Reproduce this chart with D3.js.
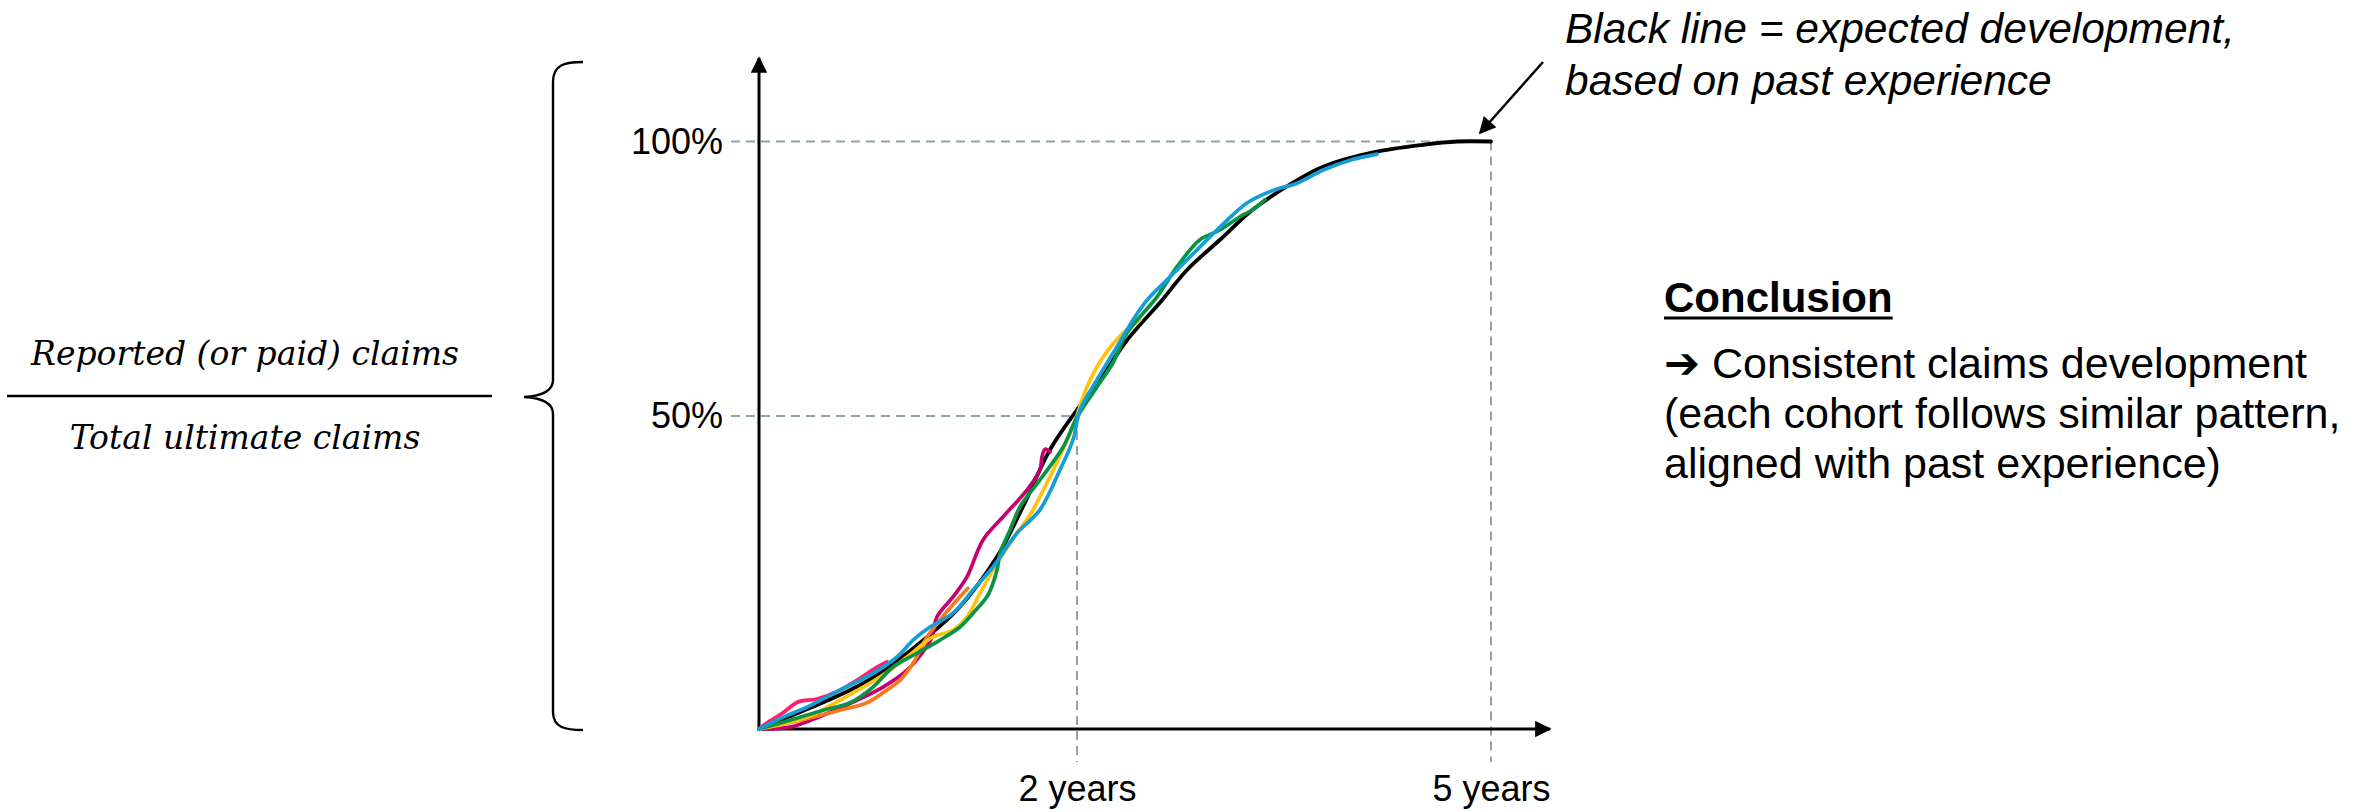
<!DOCTYPE html>
<html>
<head>
<meta charset="utf-8">
<script src="https://cdn.jsdelivr.net/npm/d3@7"></script>
<style>
  body { margin: 0; background: #fff; }
  svg text { font-family: "Liberation Sans", Arial, sans-serif; fill: #000; }
</style>
</head>
<body>
<div id="chart"></div>
<script>
var vWidth = 2361;
var vHeight = 812;

// x in years since start of cohort, y as share of total ultimate claims
var xTicks = [2, 5];
var xTickLabels = ["2 years", "5 years"];
var yTicks = [0.5, 1];
var yTickLabels = ["50%", "100%"];

// expected development (black line)
var expected = [[0,0],[0.26,0.027],[0.57,0.062],[0.76,0.089],[0.93,0.121],[1.245,0.19],[1.497,0.275],[1.66,0.355],[1.83,0.446],[2,0.511],[2.167,0.566],[2.362,0.638],[2.616,0.711],[2.797,0.766],[3.036,0.821],[3.275,0.876],[3.565,0.925],[3.783,0.954],[4.145,0.98],[4.507,0.994],[4.754,1],[5,1]];

// individual cohorts
var cohortColors = ["#c8006f", "#f47a20", "#ff1f6b", "#ffc20e", "#0a9344", "#139fd6"];
var cohortMagenta = [[0,0],[0.195,0.003],[0.403,0.022],[0.616,0.046],[0.78,0.067],[0.931,0.094],[1.025,0.121],[1.088,0.147],[1.119,0.179],[1.22,0.211],[1.308,0.243],[1.409,0.302],[1.535,0.339],[1.686,0.382],[1.767,0.414],[1.78,0.435],[1.799,0.447],[1.83,0.4425]];
var cohortOrange = [[0,0],[0.258,0.014],[0.509,0.03],[0.679,0.042],[0.78,0.058],[0.887,0.078],[0.969,0.105],[1.057,0.147],[1.138,0.174],[1.245,0.206],[1.314,0.225]];
var cohortPink = [[0,0],[0.05,0.0096],[0.151,0.026],[0.245,0.043],[0.365,0.048],[0.509,0.062],[0.635,0.081],[0.73,0.097],[0.805,0.107]];
var cohortYellow = [[0,0],[0.302,0.019],[0.509,0.046],[0.761,0.083],[0.931,0.115],[1.094,0.147],[1.22,0.158],[1.308,0.179],[1.39,0.217],[1.497,0.265],[1.623,0.313],[1.704,0.342],[1.83,0.403],[1.975,0.483],[2.072,0.553],[2.188,0.607],[2.333,0.651],[2.457,0.675]];
var cohortGreen = [[0,0],[0.195,0.014],[0.403,0.03],[0.572,0.042],[0.717,0.067],[0.843,0.099],[0.994,0.121],[1.138,0.142],[1.264,0.163],[1.346,0.185],[1.44,0.214],[1.497,0.254],[1.516,0.281],[1.579,0.318],[1.642,0.355],[1.767,0.398],[1.912,0.45],[2,0.498],[2.145,0.553],[2.261,0.597],[2.362,0.651],[2.58,0.717],[2.725,0.772],[2.891,0.821],[3.036,0.839],[3.181,0.863],[3.275,0.876],[3.362,0.894]];
var cohortBlue = [[0,0],[0.151,0.019],[0.302,0.035],[0.509,0.062],[0.717,0.089],[0.868,0.115],[0.969,0.142],[1.075,0.163],[1.22,0.185],[1.346,0.222],[1.472,0.259],[1.623,0.313],[1.767,0.35],[1.893,0.414],[1.975,0.462],[2.022,0.511],[2.145,0.566],[2.29,0.626],[2.406,0.675],[2.507,0.711],[2.652,0.748],[2.819,0.79],[3.036,0.844],[3.232,0.888],[3.42,0.911],[3.594,0.924],[3.783,0.948],[3.978,0.966],[4.174,0.977]];
var cohorts = [cohortMagenta, cohortOrange, cohortPink, cohortYellow, cohortGreen, cohortBlue];

var annotationLines = ["Black line = expected development,", "based on past experience"];
var conclusionTitle = "Conclusion";
var conclusionLines = ["\u2794 Consistent claims development", "(each cohort follows similar pattern,", "aligned with past experience)"];
var ratioTop = "Reported (or paid) claims";
var ratioBottom = "Total ultimate claims";

var svg = d3.select("#chart")
            .append("svg")
            .attr("width", vWidth)
            .attr("height", vHeight)
            .style("background", "#fff");

// the sketch is not to scale, so both scales are piecewise
var x = d3.scaleLinear().domain([0, 2, 5]).range([759, 1077, 1491]);
var y = d3.scaleLinear().domain([0, 0.5, 1]).range([729, 416, 141.5]);

var axisEndX = 1550;
var axisTopY = 58;
var gridColor = "#8fa3a8";

var defs = svg.append("defs");
defs.append("marker")
    .attr("id", "arrow")
    .attr("viewBox", "0 0 10 10")
    .attr("refX", 9).attr("refY", 5)
    .attr("markerWidth", 6.5).attr("markerHeight", 5.5)
    .attr("orient", "auto")
    .attr("markerUnits", "strokeWidth")
    .append("path")
    .attr("d", "M0,0 L10,5 L0,10 Z")
    .attr("fill", "#000");
defs.append("marker")
    .attr("id", "arrow-thin")
    .attr("viewBox", "0 0 10 10")
    .attr("refX", 9).attr("refY", 5)
    .attr("markerWidth", 7.5).attr("markerHeight", 7)
    .attr("orient", "auto")
    .attr("markerUnits", "strokeWidth")
    .append("path")
    .attr("d", "M0,0 L10,5 L0,10 Z")
    .attr("fill", "#000");

// dashed guides: 50% <-> 2 years, 100% <-> 5 years
var grid = svg.append("g")
    .attr("stroke", gridColor)
    .attr("stroke-width", 2)
    .attr("stroke-dasharray", "9,6")
    .attr("fill", "none");
yTicks.forEach(function (v, i) {
  grid.append("line")
      .attr("x1", x(0) - 28).attr("x2", x(xTicks[i]))
      .attr("y1", y(v)).attr("y2", y(v));
  grid.append("line")
      .attr("x1", x(xTicks[i])).attr("x2", x(xTicks[i]))
      .attr("y1", y(v)).attr("y2", y(0) + 33);
});

// axes: labels through d3 axes, lines drawn as arrows
var xAxis = d3.axisBottom(x)
    .tickValues(xTicks)
    .tickFormat(function (d, i) { return xTickLabels[i]; })
    .tickSize(0)
    .tickPadding(46);
var gx = svg.append("g")
    .attr("transform", "translate(0," + y(0) + ")")
    .call(xAxis);
gx.select(".domain").remove();
gx.selectAll("text").attr("font-size", 36).style("font-family", "'Liberation Sans', Arial, sans-serif");

var yAxis = d3.axisLeft(y)
    .tickValues(yTicks)
    .tickFormat(function (d, i) { return yTickLabels[i]; })
    .tickSize(0)
    .tickPadding(36);
var gy = svg.append("g")
    .attr("transform", "translate(" + x(0) + ",0)")
    .call(yAxis);
gy.select(".domain").remove();
gy.selectAll("text").attr("font-size", 36).style("font-family", "'Liberation Sans', Arial, sans-serif");

svg.append("line")
    .attr("x1", x(0)).attr("y1", y(0))
    .attr("x2", axisEndX).attr("y2", y(0))
    .attr("stroke", "#000").attr("stroke-width", 3)
    .attr("marker-end", "url(#arrow)");
svg.append("line")
    .attr("x1", x(0)).attr("y1", y(0) + 1.5)
    .attr("x2", x(0)).attr("y2", axisTopY)
    .attr("stroke", "#000").attr("stroke-width", 3)
    .attr("marker-end", "url(#arrow)");

// curves
var line = d3.line()
    .x(function (d) { return x(d[0]); })
    .y(function (d) { return y(d[1]); })
    .curve(d3.curveCatmullRom.alpha(0.5));

svg.append("path")
    .datum(expected)
    .attr("d", line)
    .attr("fill", "none")
    .attr("stroke", "#000")
    .attr("stroke-width", 3.8)
    .attr("stroke-linecap", "round");

svg.append("g").selectAll("path")
    .data(cohorts)
    .enter()
    .append("path")
    .attr("d", line)
    .attr("fill", "none")
    .attr("stroke", function (d, i) { return cohortColors[i]; })
    .attr("stroke-width", 3.7)
    .attr("stroke-linecap", "round")
    .attr("stroke-linejoin", "round");

// pointer to the end of the black line
svg.append("line")
    .attr("x1", 1543).attr("y1", 62)
    .attr("x2", 1480).attr("y2", 133)
    .attr("stroke", "#000").attr("stroke-width", 2.4)
    .attr("marker-end", "url(#arrow-thin)");

svg.append("g").selectAll("text")
    .data(annotationLines)
    .enter()
    .append("text")
    .attr("x", 1565)
    .attr("y", function (d, i) { return 43 + i * 52; })
    .attr("font-size", 42.5)
    .attr("font-style", "italic")
    .text(function (d) { return d; });

// conclusion block
var title = svg.append("text")
    .attr("x", 1664).attr("y", 312)
    .attr("font-size", 42)
    .attr("font-weight", "bold")
    .text(conclusionTitle);
var titleWidth = title.node().getComputedTextLength();
svg.append("line")
    .attr("x1", 1664).attr("x2", 1664 + titleWidth)
    .attr("y1", 318).attr("y2", 318)
    .attr("stroke", "#000").attr("stroke-width", 3);

svg.append("g").selectAll("text")
    .data(conclusionLines)
    .enter()
    .append("text")
    .attr("x", 1664)
    .attr("y", function (d, i) { return 378 + i * 50; })
    .attr("font-size", 43)
    .text(function (d) { return d; });

// y-axis description: ratio with a curly brace
svg.append("text")
    .attr("x", 245).attr("y", 365)
    .attr("text-anchor", "middle")
    .attr("font-size", 33)
    .attr("font-style", "italic")
    .style("font-family", "'DejaVu Serif', Georgia, serif")
    .text(ratioTop);
svg.append("line")
    .attr("x1", 7).attr("x2", 492)
    .attr("y1", 396).attr("y2", 396)
    .attr("stroke", "#000").attr("stroke-width", 2.4);
svg.append("text")
    .attr("x", 245).attr("y", 449)
    .attr("text-anchor", "middle")
    .attr("font-size", 33)
    .attr("font-style", "italic")
    .style("font-family", "'DejaVu Serif', Georgia, serif")
    .text(ratioBottom);

svg.append("path")
    .attr("d", "M583,62 C566,62 553,64 553,82 L553,380 C553,391 542,396 524,397 C542,398 553,403 553,414 L553,712 C553,728 566,730 583,730")
    .attr("fill", "none")
    .attr("stroke", "#000")
    .attr("stroke-width", 2.4);
</script>
</body>
</html>
